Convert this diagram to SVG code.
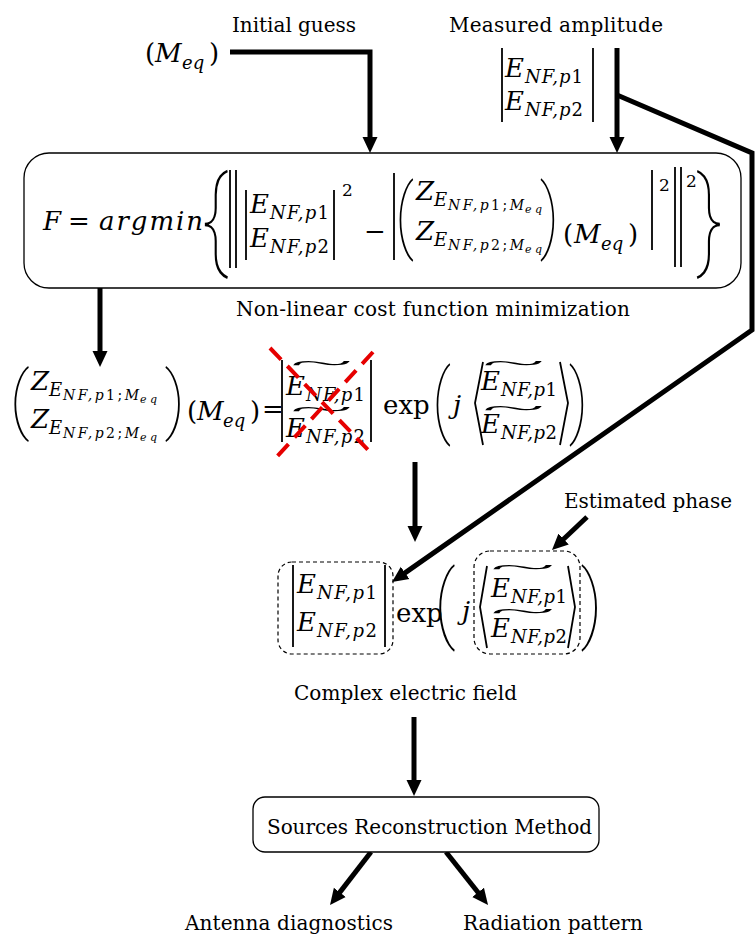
<svg xmlns="http://www.w3.org/2000/svg" width="756" height="935" viewBox="0 0 756 935">
<style>
text{fill:#000}
.lbl{font-family:"DejaVu Serif",serif;font-size:20px}
.mi{font-family:"DejaVu Serif",serif;font-style:italic;font-size:26px}
.mr{font-family:"DejaVu Serif",serif;font-size:26px}
.sb{font-family:"DejaVu Serif",serif;font-style:italic;font-size:18px}
.ss{font-family:"DejaVu Serif",serif;font-style:italic;font-size:14px}
.sss{font-family:"DejaVu Serif",serif;font-style:italic;font-size:11px}
.sup{font-family:"DejaVu Serif",serif;font-size:17px}
.tl{font-family:"Liberation Serif",serif;font-size:22px}
.dl{font-family:Roboto,sans-serif;font-weight:100}
.up{font-style:normal}
.bar{stroke:#000;stroke-width:1.8;fill:none}
.arr{stroke:#000;stroke-width:5;fill:none;stroke-linejoin:miter;marker-end:url(#ah)}
.dash{fill:none;stroke:#000;stroke-width:1.2;stroke-dasharray:4 3}
.red{stroke:#e60000;stroke-width:4;stroke-dasharray:16 9}
.box{fill:#fff;stroke:#000;stroke-width:1.3}
</style>
<defs>
<marker id="ah" viewBox="0 0 16 16" refX="1" refY="8" markerWidth="16" markerHeight="16" markerUnits="userSpaceOnUse" orient="auto"><path d="M0,0.5 L16,8 L0,15.5 z" fill="#000"/></marker>
</defs>

<g id="connectors">
<path class="arr" d="M230,52 H370 V138"/>
<path class="arr" d="M617,48 V138"/>
<path class="arr" d="M617,95 L752,153 L752,330 L404.3,573.4"/>
<path class="arr" d="M100,288 V352"/>
<path class="arr" d="M415,462 V527"/>
<path class="arr" d="M587,517 L562.9,539.7"/>
<path class="arr" d="M414,717 V781"/>
<path class="arr" d="M371,852 L339.2,893.1"/>
<path class="arr" d="M446,852 L478.7,893.2"/>
</g>

<g id="initial-guess">
<text class="lbl" x="232" y="32" textLength="124" lengthAdjust="spacing">Initial guess</text>
<text class="mr" x="145" y="62">(</text>
<text class="mi" x="155" y="62">M</text>
<text class="sb" x="182" y="69">eq</text>
<text class="mr" x="209" y="62">)</text>
</g>

<g id="measured-amplitude">
<text class="lbl" x="449" y="32" textLength="214" lengthAdjust="spacing">Measured amplitude</text>
<line class="bar" x1="502" y1="48" x2="502" y2="122"/>
<line class="bar" x1="593" y1="48" x2="593" y2="122"/>
<text class="mi" x="505" y="77">E</text>
<text class="sb" x="525" y="83" textLength="58" lengthAdjust="spacing">NF,p<tspan class="up">1</tspan></text>
<text class="mi" x="505" y="110">E</text>
<text class="sb" x="525" y="116" textLength="58" lengthAdjust="spacing">NF,p<tspan class="up">2</tspan></text>
</g>

<g id="cost-function">
<rect class="box" x="24" y="153" width="717" height="135" rx="25"/>
<text class="mi" x="43" y="230">F</text>
<text class="mr" x="68" y="230">=</text>
<text class="mi" x="99" y="230" textLength="104" lengthAdjust="spacing">argmin</text>
<text class="dl" font-size="110" transform="translate(202,255) scale(0.73,1)">{</text>
<line class="bar" x1="230" y1="170" x2="230" y2="268"/>
<line class="bar" x1="236" y1="170" x2="236" y2="268"/>
<line class="bar" x1="246" y1="190" x2="246" y2="260"/>
<text class="mi" x="250" y="213">E</text>
<text class="sb" x="270" y="219" textLength="59" lengthAdjust="spacing">NF,p<tspan class="up">1</tspan></text>
<text class="mi" x="250" y="247">E</text>
<text class="sb" x="270" y="253" textLength="59" lengthAdjust="spacing">NF,p<tspan class="up">2</tspan></text>
<line class="bar" x1="334" y1="190" x2="334" y2="260"/>
<text class="sup" x="342" y="196">2</text>
<text class="mr" x="364" y="240">−</text>
<line class="bar" x1="394" y1="173" x2="394" y2="260"/>
<text class="dl" font-size="81" transform="translate(394.9,243) scale(0.79,1)">(</text>
<text class="mi" x="416" y="200">Z</text>
<text class="sb" x="434" y="206">E</text>
<text class="ss" x="448" y="210" textLength="76" lengthAdjust="spacing">NF,p<tspan class="up">1;</tspan>M</text>
<text class="sss" x="525" y="213" textLength="17" lengthAdjust="spacing">eq</text>
<text class="mi" x="416" y="240">Z</text>
<text class="sb" x="434" y="246">E</text>
<text class="ss" x="448" y="250" textLength="76" lengthAdjust="spacing">NF,p<tspan class="up">2;</tspan>M</text>
<text class="sss" x="525" y="253" textLength="17" lengthAdjust="spacing">eq</text>
<text class="dl" font-size="81" transform="translate(539.7,243) scale(0.79,1)">)</text>
<text class="mr" x="563" y="243">(</text>
<text class="mi" x="574" y="243">M</text>
<text class="sb" x="601" y="250">eq</text>
<text class="mr" x="628" y="243">)</text>
<line class="bar" x1="652" y1="170" x2="652" y2="250"/>
<text class="sup" x="659" y="191">2</text>
<line class="bar" x1="675" y1="167" x2="675" y2="267"/>
<line class="bar" x1="681" y1="167" x2="681" y2="267"/>
<text class="sup" x="686" y="187">2</text>
<text class="dl" font-size="110" transform="translate(696.8,255) scale(0.73,1)">}</text>
<text class="lbl" x="236" y="316" textLength="394" lengthAdjust="spacing">Non-linear cost function minimization</text>
</g>

<g id="phase-equation">
<text class="dl" font-size="74" transform="translate(9.6,425) scale(0.92,1)">(</text>
<text class="mi" x="31" y="390">Z</text>
<text class="sb" x="49" y="396">E</text>
<text class="ss" x="63" y="400" textLength="76" lengthAdjust="spacing">NF,p<tspan class="up">1;</tspan>M</text>
<text class="sss" x="140" y="403" textLength="17" lengthAdjust="spacing">eq</text>
<text class="mi" x="31" y="428">Z</text>
<text class="sb" x="49" y="434">E</text>
<text class="ss" x="63" y="438" textLength="76" lengthAdjust="spacing">NF,p<tspan class="up">2;</tspan>M</text>
<text class="sss" x="140" y="441" textLength="17" lengthAdjust="spacing">eq</text>
<text class="dl" font-size="74" transform="translate(164.6,425) scale(0.92,1)">)</text>
<text class="mr" x="187" y="420">(</text>
<text class="mi" x="197" y="420">M</text>
<text class="sb" x="223" y="427">eq</text>
<text class="mr" x="250" y="420">)</text>
<text class="mr" x="262" y="418" font-size="20">=</text>
<line class="bar" x1="282" y1="360" x2="282" y2="442"/>
<text class="tl" transform="translate(290,370) scale(5.3,1)">~</text>
<text class="mi" x="286" y="395">E</text>
<text class="sb" x="306" y="401" textLength="59" lengthAdjust="spacing">NF,p<tspan class="up">1</tspan></text>
<text class="tl" transform="translate(290,416) scale(5.3,1)">~</text>
<text class="mi" x="286" y="437">E</text>
<text class="sb" x="306" y="443" textLength="59" lengthAdjust="spacing">NF,p<tspan class="up">2</tspan></text>
<line class="bar" x1="371" y1="360" x2="371" y2="442"/>
<line class="red" x1="270" y1="348" x2="373" y2="455"/>
<line class="red" x1="373" y1="352" x2="272" y2="462"/>
<text class="mr" x="383" y="414" font-size="23">exp</text>
<text class="dl" font-size="81" transform="translate(431.9,428) scale(0.79,1)">(</text>
<text class="mi" x="453" y="414">j</text>
<polyline class="bar" points="483,362 475,403 483,445"/>
<text class="tl" transform="translate(482,370) scale(5.3,1)">~</text>
<text class="mi" x="481" y="390">E</text>
<text class="sb" x="501" y="396" textLength="56" lengthAdjust="spacing">NF,p<tspan class="up">1</tspan></text>
<text class="tl" transform="translate(482,415) scale(5.3,1)">~</text>
<text class="mi" x="481" y="433">E</text>
<text class="sb" x="501" y="439" textLength="56" lengthAdjust="spacing">NF,p<tspan class="up">2</tspan></text>
<polyline class="bar" points="560,362 568,403 560,445"/>
<text class="dl" font-size="81" transform="translate(568.7,428) scale(0.79,1)">)</text>
</g>

<g id="estimated-phase">
<text class="lbl" x="564" y="508" textLength="168" lengthAdjust="spacing">Estimated phase</text>
</g>

<g id="complex-field-expression">
<rect class="dash" x="278" y="562" width="115" height="92" rx="14"/>
<rect class="dash" x="474" y="551" width="106" height="103" rx="16"/>
<line class="bar" x1="293" y1="565" x2="293" y2="647"/>
<text class="mi" x="297" y="593">E</text>
<text class="sb" x="317" y="599" textLength="60" lengthAdjust="spacing">NF,p<tspan class="up">1</tspan></text>
<text class="mi" x="297" y="631">E</text>
<text class="sb" x="317" y="637" textLength="60" lengthAdjust="spacing">NF,p<tspan class="up">2</tspan></text>
<line class="bar" x1="385" y1="565" x2="385" y2="647"/>
<text class="mr" x="396" y="622" font-size="23">exp</text>
<text class="dl" font-size="86" transform="translate(434.1,632) scale(0.85,1)">(</text>
<text class="mi" x="462" y="620">j</text>
<polyline class="bar" points="487,566 480,607 487,648"/>
<text class="tl" transform="translate(490,574) scale(5.5,1)">~</text>
<text class="mi" x="491" y="597">E</text>
<text class="sb" x="511" y="603" textLength="56" lengthAdjust="spacing">NF,p<tspan class="up">1</tspan></text>
<text class="tl" transform="translate(490,618) scale(5.5,1)">~</text>
<text class="mi" x="491" y="637">E</text>
<text class="sb" x="511" y="643" textLength="56" lengthAdjust="spacing">NF,p<tspan class="up">2</tspan></text>
<polyline class="bar" points="568,566 575,607 568,648"/>
<text class="dl" font-size="86" transform="translate(580.5,632) scale(0.85,1)">)</text>
<text class="lbl" x="294" y="700" textLength="223" lengthAdjust="spacing">Complex electric field</text>
</g>

<g id="srm">
<rect class="box" x="253" y="797" width="346" height="55" rx="12"/>
<text class="lbl" x="267" y="834" textLength="325" lengthAdjust="spacing">Sources Reconstruction Method</text>
</g>

<g id="antenna-diagnostics">
<text class="lbl" x="185" y="930" textLength="208" lengthAdjust="spacing">Antenna diagnostics</text>
</g>

<g id="radiation-pattern">
<text class="lbl" x="463" y="930" textLength="180" lengthAdjust="spacing">Radiation pattern</text>
</g>
</svg>
